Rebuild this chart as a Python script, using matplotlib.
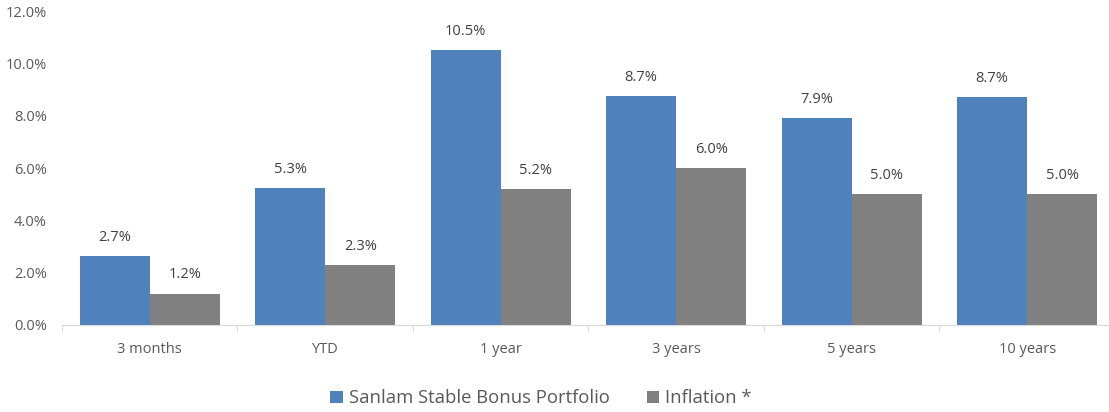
import numpy as np
import matplotlib.pyplot as plt
from matplotlib.ticker import FuncFormatter, FixedLocator

categories = ['3 months', 'YTD', '1 year', '3 years', '5 years', '10 years']
portfolio = [2.65, 5.25, 10.5, 8.75, 7.9, 8.7]
inflation = [1.2, 2.3, 5.2, 6.0, 5.0, 5.0]
portfolio_labels = ['2.7%', '5.3%', '10.5%', '8.7%', '7.9%', '8.7%']
inflation_labels = ['1.2%', '2.3%', '5.2%', '6.0%', '5.0%', '5.0%']

plt.rcParams['font.family'] = ['Open Sans', 'DejaVu Sans']
txt = '#595959'

fig = plt.figure(figsize=(11.09, 4.12), dpi=100)
# axis runs slightly past the right edge of the picture, as in the reference
ax = fig.add_axes([0.0559, 0.2112, 0.9495, 0.7618])

x = np.arange(len(categories))
w = 0.4
b1 = ax.bar(x - w / 2, portfolio, w, color='#4F81BD', label='Sanlam Stable Bonus Portfolio')
b2 = ax.bar(x + w / 2, inflation, w, color='#808080', label='Inflation *')

for bars, labs in [(b1, portfolio_labels), (b2, inflation_labels)]:
    for r, s in zip(bars, labs):
        ax.annotate(s, (r.get_x() + r.get_width() / 2, r.get_height()),
                    xytext=(0, 8), textcoords='offset points',
                    ha='center', va='bottom', fontsize=10.5, color='#404040')

ax.set_xlim(-0.5, len(categories) - 0.5)
ax.set_ylim(0, 12)
ax.set_yticks(np.arange(0, 12.1, 2))
ax.yaxis.set_major_formatter(FuncFormatter(lambda v, p: f'{v:.1f}%'))
ax.set_xticks(x)
ax.set_xticklabels(categories)
ax.xaxis.set_minor_locator(FixedLocator(np.arange(-0.5, len(categories), 1)))
ax.tick_params(axis='x', which='major', length=0, pad=12, labelsize=10.5, colors=txt)
ax.tick_params(axis='x', which='minor', length=5, color='#D9D9D9')
ax.tick_params(axis='y', length=0, pad=11, labelsize=10.5, colors=txt)

for s in ['top', 'right', 'left']:
    ax.spines[s].set_visible(False)
ax.spines['bottom'].set_color('#D9D9D9')

leg = fig.legend(loc='center', bbox_to_anchor=(0.488, 0.033), ncol=2, frameon=False,
                 fontsize=13.3, handlelength=0.65, handleheight=0.65, handletextpad=0.35,
                 columnspacing=2.0)
for t in leg.get_texts():
    t.set_color(txt)

fig.savefig('out.png', dpi=100)
